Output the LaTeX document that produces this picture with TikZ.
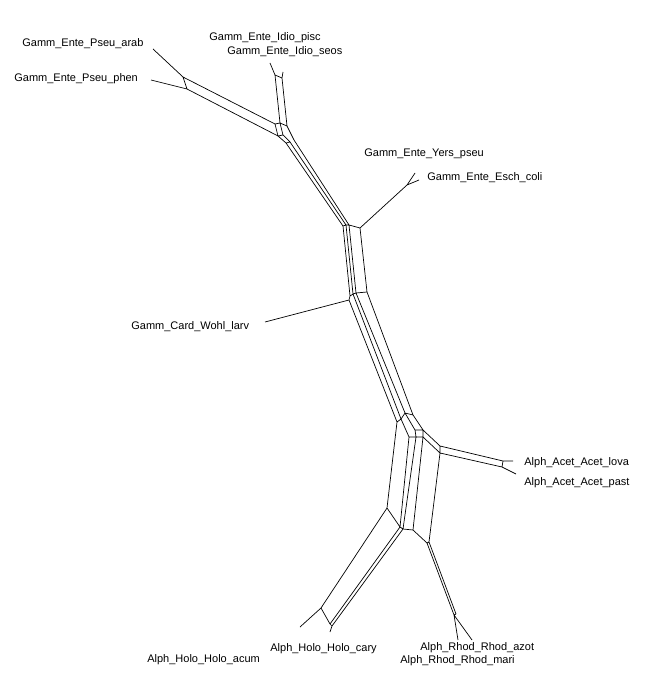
\documentclass[tikz,border=0pt]{standalone}
\usepackage{fontspec}
\setmainfont{Liberation Sans}
\begin{document}
\begin{tikzpicture}[x=1pt, y=-1pt, line width=0.7pt]
        \tikzstyle{every node}=[inner sep=0pt, font=\fontsize{11}{13}\selectfont]
        \tikzstyle{taxon}=[anchor=west]
        \tikzstyle{split}=[black, line join=round]
        \useasboundingbox (0,0) rectangle (664,700);
        \node[taxon] (arab) at (22,44) {Gamm\_Ente\_Pseu\_arab};
        \node[taxon] (phen) at (14,79) {Gamm\_Ente\_Pseu\_phen};
        \node[taxon] (pisc) at (209,38) {Gamm\_Ente\_Idio\_pisc};
        \node[taxon] (seos) at (227,52) {Gamm\_Ente\_Idio\_seos};
        \node[taxon] (yers) at (364,154) {Gamm\_Ente\_Yers\_pseu};
        \node[taxon] (esch) at (427,178) {Gamm\_Ente\_Esch\_coli};
        \node[taxon] (wohl) at (131,327) {Gamm\_Card\_Wohl\_larv};
        \node[taxon] (lova) at (524,463) {Alph\_Acet\_Acet\_lova};
        \node[taxon] (past) at (524,483) {Alph\_Acet\_Acet\_past};
        \node[taxon] (cary) at (270,649) {Alph\_Holo\_Holo\_cary};
        \node[taxon] (acum) at (147,660) {Alph\_Holo\_Holo\_acum};
        \node[taxon] (azot) at (420,648) {Alph\_Rhod\_Rhod\_azot};
        \node[taxon] (mari) at (400,661) {Alph\_Rhod\_Rhod\_mari};
        % leaf ends
        \coordinate (tarab) at (153,49);  \coordinate (tphen) at (151,80);
        \coordinate (tpisc) at (270,63);  \coordinate (tseos) at (283,72);
        \coordinate (tyers) at (415,173); \coordinate (tesch) at (419,180);
        \coordinate (twohl) at (265,322);
        \coordinate (tlova) at (513,461); \coordinate (tpast) at (516,474);
        \coordinate (tcary) at (330,632); \coordinate (tacum) at (300,627);
        \coordinate (tazot) at (458,640); \coordinate (tmari) at (472,640);
        % split nodes
        \coordinate (A1) at (183,77);  \coordinate (A2) at (187,89);
        \coordinate (I1) at (275,75);  \coordinate (I2) at (282,78);
        \coordinate (H1) at (275,124); \coordinate (H2) at (280,123);
        \coordinate (H3) at (287,126); \coordinate (H4) at (278,136);
        \coordinate (H5) at (283,135);
        \coordinate (Q1) at (286,143); \coordinate (Q2) at (290,142);
        \coordinate (Q3) at (294,140);
        \coordinate (T1) at (343,226); \coordinate (T2) at (346,225);
        \coordinate (T3) at (349,225); \coordinate (T4) at (360,228);
        \coordinate (B1) at (350,296); \coordinate (B2) at (353,294);
        \coordinate (B3) at (356,293); \coordinate (B4) at (367,292);
        \coordinate (W) at (349,300);  \coordinate (Y) at (407,185);
        \coordinate (P1) at (397,422); \coordinate (P2) at (401,419);
        \coordinate (P3) at (405,413); \coordinate (P4) at (413,415);
        \coordinate (R1) at (409,437); \coordinate (R2) at (416,437);
        \coordinate (R3) at (423,437); \coordinate (R4) at (415,430);
        \coordinate (R5) at (423,430);
        \coordinate (C1) at (440,446); \coordinate (C2) at (440,453);
        \coordinate (D1) at (503,461); \coordinate (D2) at (502,467);
        \coordinate (E1) at (387,508); \coordinate (E2) at (400,527);
        \coordinate (E3) at (403,529); \coordinate (E4) at (413,530);
        \coordinate (E5) at (427,543); \coordinate (E6) at (429,542);
        \coordinate (F1) at (321,608); \coordinate (F2) at (330,624);
        \coordinate (F3) at (332,626);
        \coordinate (G1) at (454,615); \coordinate (G2) at (456,614);
        \draw[split] (tarab) -- (A1) (tphen) -- (A2) (A1) -- (A2)
            (A1) -- (H1) (A2) -- (H4)
            (tpisc) -- (I1) (tseos) -- (I2) (I1) -- (I2)
            (I1) -- (H2) (I2) -- (H3)
            (H1) -- (H2) -- (H3) (H1) -- (H4) (H2) -- (H5) (H4) -- (H5)
            (H4) -- (Q1) (H5) -- (Q2) (H3) -- (Q3) (Q1) -- (Q2)
            (Q1) -- (T1) (Q2) -- (T2) (Q3) -- (T3)
            (T1) -- (T2) -- (T3) -- (T4)
            (T1) -- (B1) (T2) -- (B2) (T3) -- (B3) (T4) -- (B4)
            (B1) -- (B2) -- (B3) -- (B4)
            (T4) -- (Y) (Y) -- (tyers) (Y) -- (tesch)
            (B1) -- (W) (W) -- (twohl)
            (W) -- (P1) (B2) -- (P2) (B3) -- (P3) (B4) -- (P4)
            (P1) -- (P2) -- (P3) -- (P4)
            (P2) -- (R1) (P3) -- (R4) (P4) -- (R5) (R4) -- (R5)
            (R4) -- (R2) (R5) -- (R3) (R1) -- (R2) -- (R3)
            (R5) -- (C1) (R3) -- (C2) (C1) -- (C2)
            (C1) -- (D1) (C2) -- (D2) (D1) -- (D2)
            (D1) -- (tlova) (D2) -- (tpast)
            (P1) -- (E1) (R1) -- (E2) (R2) -- (E3) (R3) -- (E4) (C2) -- (E6)
            (E1) -- (E2) -- (E3) -- (E4) -- (E5) (E5) -- (E6)
            (E1) -- (F1) (E2) -- (F2) (E3) -- (F3) (F1) -- (F2) -- (F3)
            (F1) -- (tacum) (F3) -- (tcary)
            (E5) -- (G1) (E6) -- (G2) (G1) -- (G2)
            (G1) -- (tazot) (G1) -- (tmari);
\end{tikzpicture}
\end{document}
